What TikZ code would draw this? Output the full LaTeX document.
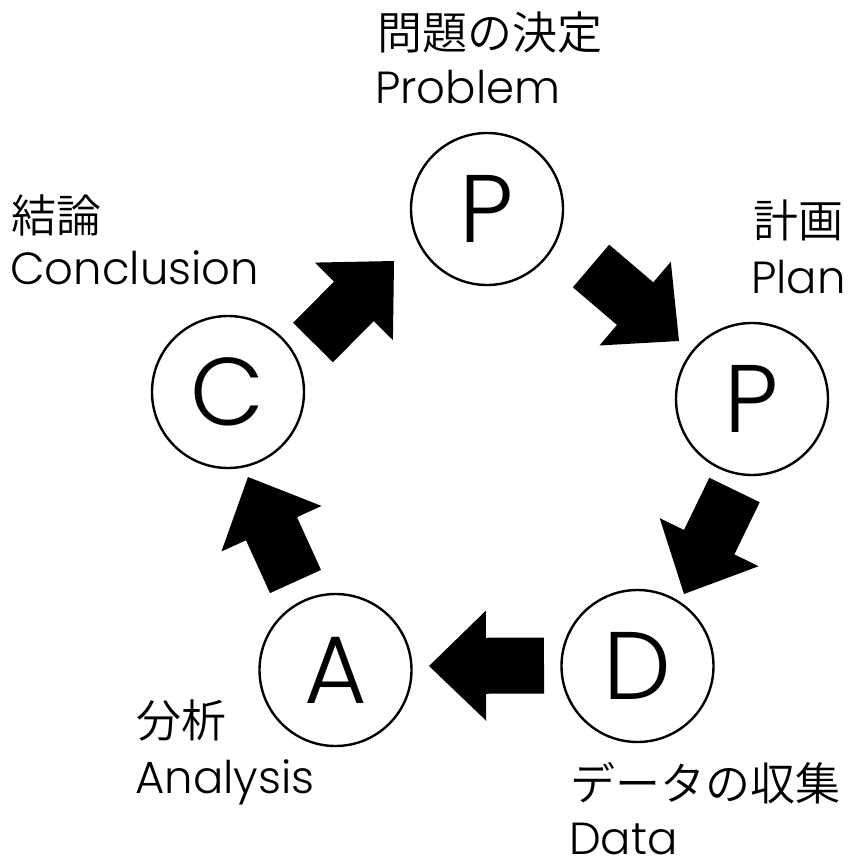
\documentclass[tikz,border=0pt]{standalone}
\usepackage{fontspec}
\setmainfont{Poppins}[UprightFont=* Light]
\newfontfamily\jp{Noto Sans CJK JP}[UprightFont=* DemiLight]
\usetikzlibrary{calc}
\newcommand\blockarrow[3]{%
  \coordinate (#1j) at ($(#2)!58pt!(#3)$);
  \fill[arrowfill] ($(#2)!28pt!90:(#3)$) -- ($(#1j)!28pt!90:(#3)$) -- ($(#1j)!55pt!90:(#3)$) -- (#3)
    -- ($(#1j)!55pt!-90:(#3)$) -- ($(#1j)!28pt!-90:(#3)$) -- ($(#2)!28pt!-90:(#3)$) -- cycle;
}
\tikzset{
  stage/.style={circle, draw=black, line width=2.4pt, minimum size=152pt, inner sep=0pt,
    font=\fontsize{96}{96}\selectfont},
  jlabel/.style={anchor=base west, inner sep=0pt, font=\jp\fontsize{45}{45}\selectfont},
  elabel/.style={anchor=base west, inner sep=0pt, font=\fontsize{45}{45}\selectfont},
  arrowfill/.style={fill=black}
}
\begin{document}
\begin{tikzpicture}[x=1pt,y=-1pt]
\useasboundingbox (0,0) rectangle (861,859);
% stages
\node[stage] (P1) at (487,209) {P};
\node[stage] (P2) at (752,399) {P};
\node[stage] (D)  at (637.5,666) {D};
\node[stage] (A)  at (335.5,670) {A};
\node[stage] (C)  at (228,392) {C};
% labels
\node[jlabel] (lP1j) at (377,49) {問題の決定};
\node[elabel] (lP1e) at (375,103) {Problem};
\node[jlabel] (lP2j) at (753,237) {計画};
\node[elabel] (lP2e) at (751,293) {Plan};
\node[jlabel] (lCj) at (11,232) {結論};
\node[elabel] (lCe) at (10,284) {Conclusion};
\node[jlabel] (lAj) at (136,737) {分析};
\node[elabel] (lAe) at (135,793) {Analysis};
\node[jlabel] (lDj) at (570,800) {データの収集};
\node[elabel] (lDe) at (569,854) {Data};
% arrows
\coordinate (a1t) at (313,342.5); \coordinate (a1h) at (394,261);
\coordinate (a2t) at (591,266);   \coordinate (a2h) at (679,341);
\coordinate (a3t) at (734.5,490); \coordinate (a3h) at (684,594);
\coordinate (a4t) at (544,665.5); \coordinate (a4h) at (429,666);
\coordinate (a5t) at (295.5,581.5); \coordinate (a5h) at (248,477);
\blockarrow{a1}{a1t}{a1h}
\blockarrow{a2}{a2t}{a2h}
\blockarrow{a3}{a3t}{a3h}
\blockarrow{a4}{a4t}{a4h}
\blockarrow{a5}{a5t}{a5h}
\end{tikzpicture}
\end{document}
